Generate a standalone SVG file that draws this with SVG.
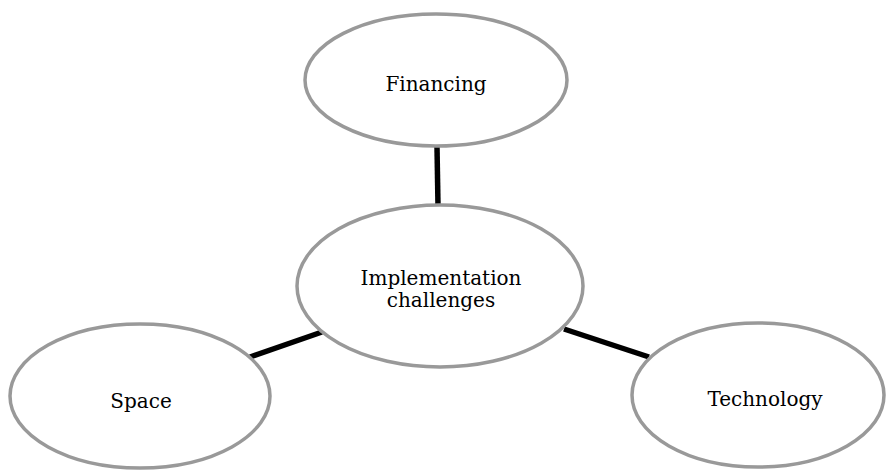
<svg xmlns="http://www.w3.org/2000/svg" width="886" height="470" viewBox="0 0 886 470">
<style>
.node ellipse{fill:#fff;stroke:#999;stroke-width:3.5}
.node text{font-family:"DejaVu Serif","Liberation Serif",serif;font-size:20px;fill:#000;text-anchor:middle}
#connectors line{stroke:#000;stroke-width:5.5;stroke-linecap:butt}
</style>
<rect width="886" height="470" fill="#fff"/>
<g id="connectors">
<line x1="437" y1="147" x2="438" y2="206"/>
<line x1="250" y1="357" x2="322" y2="332"/>
<line x1="564" y1="329" x2="649" y2="357"/>
</g>
<g id="financing" class="node">
<ellipse cx="436" cy="80" rx="131" ry="66"/>
<text x="436" y="91">Financing</text>
</g>
<g id="implementation" class="node">
<ellipse cx="440" cy="286" rx="143" ry="81"/>
<text x="441" y="285">Implementation</text>
<text x="441" y="307">challenges</text>
</g>
<g id="space" class="node">
<ellipse cx="140" cy="396" rx="130" ry="72"/>
<text x="141" y="408">Space</text>
</g>
<g id="technology" class="node">
<ellipse cx="758" cy="395" rx="126" ry="72"/>
<text x="765" y="406">Technology</text>
</g>
</svg>
